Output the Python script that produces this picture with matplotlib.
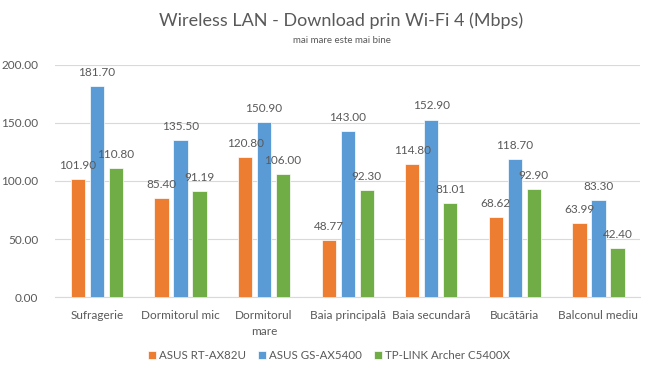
import numpy as np
import matplotlib
matplotlib.use("Agg")
import matplotlib.pyplot as plt

categories = ["Sufragerie", "Dormitorul mic", "Dormitorul\nmare", "Baia principală",
              "Baia secundară", "Bucătăria", "Balconul mediu"]
series_names = ["ASUS RT-AX82U", "ASUS GS-AX5400", "TP-LINK Archer C5400X"]
rt_ax82u = [101.90, 85.40, 120.80, 48.77, 114.80, 68.62, 63.99]
gs_ax5400 = [181.70, 135.50, 150.90, 143.00, 152.90, 118.70, 83.30]
c5400x = [110.80, 91.19, 106.00, 92.30, 81.01, 92.90, 42.40]
colors = ["#ED7D31", "#5B9BD5", "#70AD47"]
yticks = [0, 50, 100, 150, 200]

plt.rcParams['font.family'] = ['Lato', 'DejaVu Sans']
text_color = "#595959"

fig = plt.figure(figsize=(6.48, 3.77), dpi=100)
ax = fig.add_axes([0.085, 0.212, 0.903, 0.616])

x = np.arange(len(categories))
width = 0.17
step = 0.227
for i, (vals, name) in enumerate(zip([rt_ax82u, gs_ax5400, c5400x], series_names)):
    pos = x + (i - 1) * step
    ax.bar(pos, vals, width, color=colors[i], label=name, zorder=3,
           edgecolor="white", linewidth=0.5)
    for p, v in zip(pos, vals):
        ax.text(p, v + 7, f"{v:.2f}", ha="center", va="bottom", fontsize=8.5,
                color=text_color, zorder=5)

ax.set_ylim(0, 200)
ax.set_xlim(-0.5, len(categories) - 0.5)
ax.set_yticks(yticks)
ax.set_yticklabels([f"{t:.2f}" for t in yticks], fontsize=8.5, color=text_color)
ax.set_xticks(x)
ax.set_xticklabels(categories, fontsize=8.5, color=text_color, linespacing=1.6)
ax.tick_params(axis="both", length=0)
ax.tick_params(axis="x", pad=9)
ax.tick_params(axis="y", pad=12)
ax.grid(axis="y", color="#D9D9D9", linewidth=0.8, zorder=0)
for s in ["top", "right", "left"]:
    ax.spines[s].set_visible(False)
ax.spines["bottom"].set_color("#D9D9D9")

fig.text(0.527, 0.945, "Wireless LAN - Download prin Wi-Fi 4 (Mbps)", ha="center", va="center",
         fontsize=13, color=text_color)
fig.text(0.527, 0.893, "mai mare este mai bine", ha="center", va="center",
         fontsize=7, color=text_color)

fig.legend(loc="center", bbox_to_anchor=(0.508, 0.058), ncol=3, frameon=False,
           fontsize=8.3, handlelength=0.7, handleheight=0.7, handletextpad=0.3,
           columnspacing=1.0, labelcolor=text_color)

plt.savefig("out.png", dpi=100)
plt.close()
